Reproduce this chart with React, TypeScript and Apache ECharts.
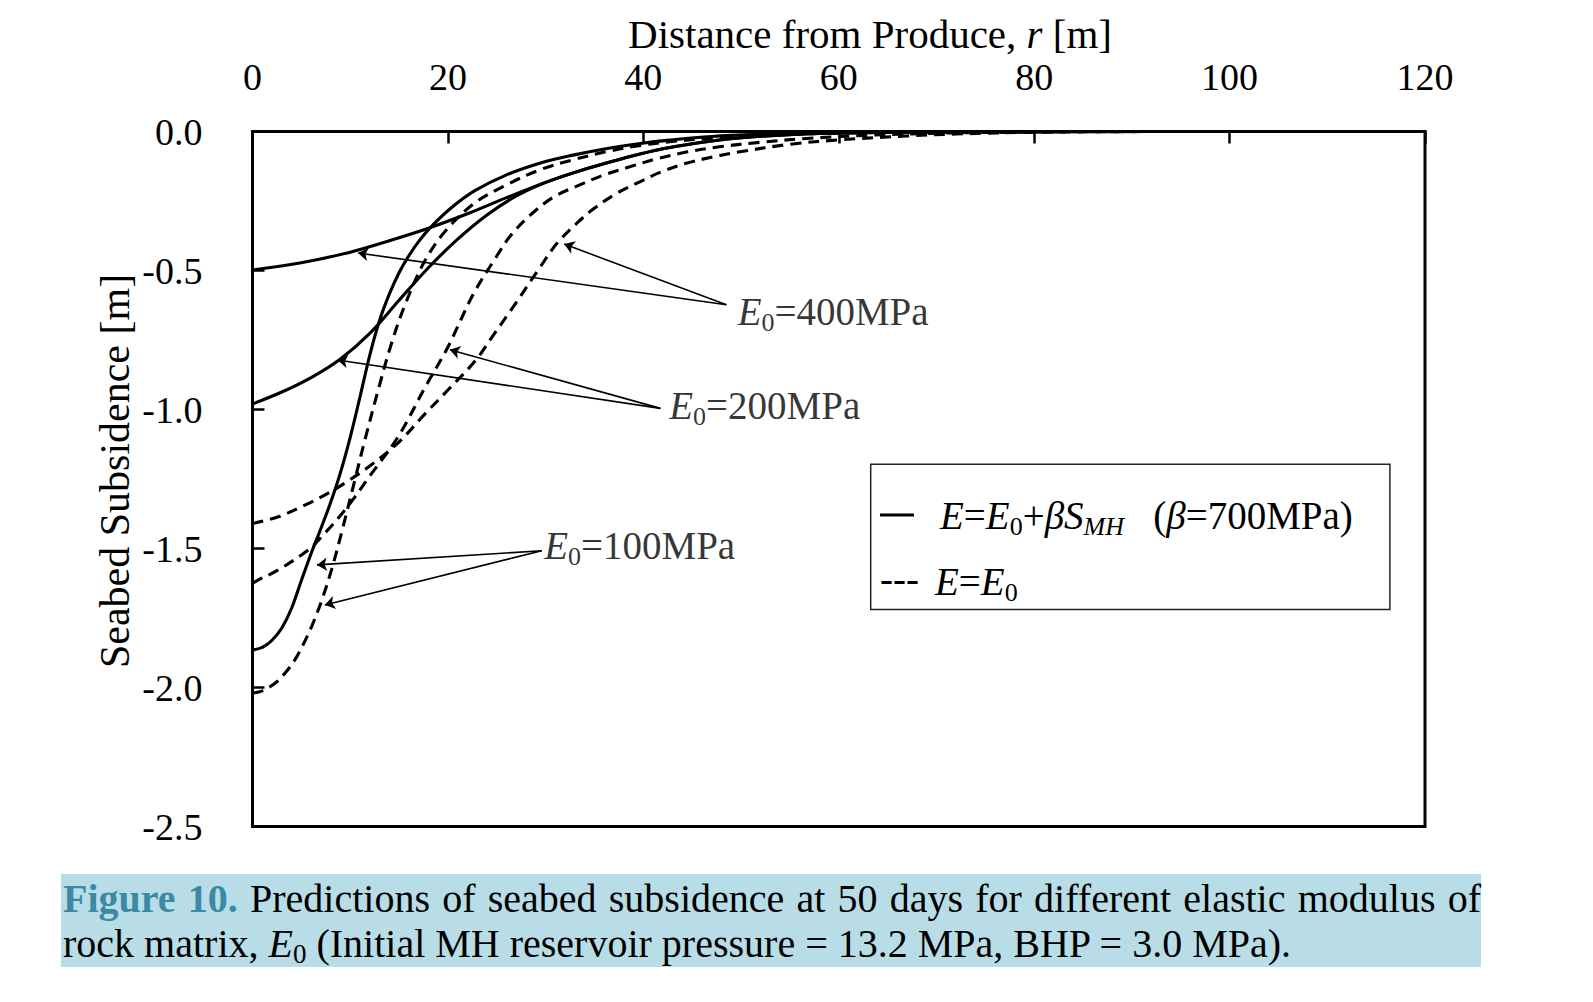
import React, { useEffect, useRef } from 'react';
import * as echarts from 'echarts';

const FONT = '"Liberation Serif", "Times New Roman", serif';

// axis settings
const X_MIN = 0;
const X_MAX = 120;
const X_STEP = 20;
const Y_MIN = -2.5;
const Y_MAX = 0;
const Y_STEP = 0.5;

// E = E0 + beta*S_MH (solid lines)
const rSolid400 = [0, 5, 10, 14, 18, 22, 26, 30, 34, 38, 42, 47, 52, 58, 65, 75, 90, 120];
const zSolid400 = [-0.498, -0.472, -0.434, -0.393, -0.348, -0.296, -0.238, -0.183, -0.136, -0.096, -0.062, -0.034, -0.017, -0.007, -0.003, -0.001, 0, 0];

const rSolid200 = [0, 3, 6, 9, 12, 15, 18, 21, 24, 27, 30, 34, 38, 42, 47, 52, 58, 65, 75, 90, 120];
const zSolid200 = [-0.98, -0.937, -0.885, -0.818, -0.726, -0.607, -0.49, -0.387, -0.3, -0.232, -0.183, -0.136, -0.096, -0.062, -0.034, -0.017, -0.007, -0.003, -0.001, 0, 0];

const rSolid100 = [0, 1, 2, 3, 4, 5, 6, 7, 8, 9, 10, 11, 12, 13, 14, 15, 16, 17, 18.3, 20.5, 22.8, 26, 29.4, 32.8, 36.3, 39.7, 42.7, 47, 52, 58, 65, 75, 90, 120];
const zSolid100 = [-1.865, -1.856, -1.83, -1.786, -1.715, -1.615, -1.518, -1.428, -1.334, -1.227, -1.1, -0.955, -0.805, -0.68, -0.585, -0.508, -0.447, -0.396, -0.342, -0.27, -0.212, -0.156, -0.114, -0.085, -0.061, -0.043, -0.031, -0.018, -0.01, -0.004, -0.002, -0.001, 0, 0];

// E = E0 (dashed lines)
const rDash400 = [0, 2.64, 5.3, 7.8, 10, 11.9, 14.9, 17.7, 20, 22.8, 24.6, 26.4, 29.4, 31.1, 33.2, 34.9, 37.3, 39.7, 41.7, 44.4, 47.2, 49.9, 55, 60.1, 67, 72, 80, 95, 120];
const zDash400 = [-1.41, -1.386, -1.345, -1.3, -1.252, -1.206, -1.12, -1.014, -0.93, -0.825, -0.735, -0.645, -0.49, -0.405, -0.33, -0.278, -0.222, -0.18, -0.147, -0.114, -0.091, -0.073, -0.046, -0.03, -0.016, -0.009, -0.003, 0, 0];

const rDash200 = [0, 0.6, 2.64, 5.7, 7.4, 9.5, 12.2, 14.9, 17.7, 20, 22.6, 25, 26.4, 28.4, 30.8, 33.5, 35.9, 38.6, 41.4, 44.4, 47.8, 51.9, 56.7, 63.5, 70.4, 80, 95, 120];
const zDash200 = [-1.625, -1.613, -1.577, -1.505, -1.445, -1.36, -1.23, -1.098, -0.918, -0.775, -0.585, -0.448, -0.375, -0.302, -0.236, -0.192, -0.157, -0.127, -0.098, -0.074, -0.055, -0.039, -0.025, -0.013, -0.006, -0.002, 0, 0];

const rDash100 = [0, 1, 2.3, 3.3, 4.35, 5.2, 6.06, 7.1, 8.1, 9.1, 10.5, 11.5, 12.9, 14.2, 15.6, 17.6, 19.7, 22.7, 26, 29.4, 32.8, 36.3, 39.7, 42.7, 47, 52, 58, 65, 75, 90, 120];
const zDash100 = [-2.02, -2.012, -1.985, -1.95, -1.9, -1.845, -1.78, -1.685, -1.575, -1.445, -1.25, -1.11, -0.925, -0.765, -0.624, -0.468, -0.36, -0.258, -0.192, -0.138, -0.102, -0.072, -0.05, -0.037, -0.024, -0.014, -0.007, -0.003, -0.001, 0, 0];

// annotations (data units)
const annoValues = ['400', '200', '100'];
const annoTextAnchors: number[][] = [[49.6, -0.649], [42.6, -0.987], [29.8, -1.49]];
const annoTails: number[][] = [[48.5, -0.623], [41.75, -0.996], [29.6, -1.508]];
const annoHeads: number[][][] = [
  [[10.8, -0.437], [31.9, -0.405]],
  [[8.7, -0.822], [20.2, -0.785]],
  [[6.6, -1.559], [7.4, -1.703]],
];

const captionLine1 = ['Figure', '10.', 'Predictions', 'of', 'seabed', 'subsidence', 'at', '50', 'days', 'for', 'different', 'elastic', 'modulus', 'of'];
const captionBoldCount = 2;
const captionLine2 = '{n|rock matrix, }{i|E}{s|0}{n| (Initial MH reservoir pressure = 13.2 MPa, BHP = 3.0 MPa).}';

const zip = (r: number[], z: number[]) => r.map((v, i) => [v, z[i]]);

function measure(text: string, font: string): number {
  const c = document.createElement('canvas').getContext('2d');
  if (!c) return text.length * 18;
  c.font = font;
  return c.measureText(text).width;
}

export default function App() {
  const ref = useRef<HTMLDivElement>(null);

  useEffect(() => {
    document.body.style.margin = '0';
    if (!ref.current) return;
    const chart = echarts.init(ref.current, undefined, { renderer: 'svg' });

    const gridLeft = 252.5;
    const gridTop = 131.5;
    const gridW = 1172.5;
    const gridH = 695;

    const lineSeries = [
      { name: 's400', d: zip(rSolid400, zSolid400), dashed: false },
      { name: 's200', d: zip(rSolid200, zSolid200), dashed: false },
      { name: 's100', d: zip(rSolid100, zSolid100), dashed: false },
      { name: 'd400', d: zip(rDash400, zDash400), dashed: true },
      { name: 'd200', d: zip(rDash200, zDash200), dashed: true },
      { name: 'd100', d: zip(rDash100, zDash100), dashed: true },
    ].map((s) => ({
      type: 'line',
      name: s.name,
      data: s.d,
      showSymbol: false,
      symbol: 'none',
      smooth: 0.35,
      lineStyle: { color: '#000', width: 3.1, type: s.dashed ? [11, 7] : 'solid' },
      z: 3,
    }));

    const arrowData: any[] = [];
    annoTails.forEach((t, i) => {
      annoHeads[i].forEach((h) => arrowData.push({ coords: [t, h] }));
    });

    const richLabel = {
      i: { fontFamily: FONT, fontSize: 39, fontStyle: 'italic', lineHeight: 48, color: '#000' },
      n: { fontFamily: FONT, fontSize: 39, lineHeight: 48, color: '#000' },
      s: { fontFamily: FONT, fontSize: 26, lineHeight: 26, verticalAlign: 'bottom', color: '#000' },
      si: { fontFamily: FONT, fontSize: 26, fontStyle: 'italic', lineHeight: 26, verticalAlign: 'bottom', color: '#000' },
    };

    // caption line 1 justified
    const capFont = 40;
    const capLeft = 63;
    const capRight = 1481;
    const fontN = `${capFont}px "Liberation Serif"`;
    const fontB = `bold ${capFont}px "Liberation Serif"`;
    const widths = captionLine1.map((w, i) => measure(w, i < captionBoldCount ? fontB : fontN));
    const total = widths.reduce((a, b) => a + b, 0);
    const gap = (capRight - capLeft - total) / (captionLine1.length - 1);
    let cx = capLeft;
    const capWords: any[] = captionLine1.map((w, i) => {
      const el = {
        type: 'text',
        x: cx,
        y: 898.5,
        z: 20,
        style: {
          text: w,
          fontFamily: FONT,
          fontSize: capFont,
          fontWeight: i < captionBoldCount ? 'bold' : 'normal',
          fill: i < captionBoldCount ? '#3a8aa3' : '#000',
          align: 'left',
          verticalAlign: 'middle',
          textAlign: 'left',
          textVerticalAlign: 'middle',
        },
      };
      cx += widths[i] + gap;
      return el;
    });

    const capRich = {
      n: { fontFamily: FONT, fontSize: capFont, lineHeight: 48, color: '#000' },
      i: { fontFamily: FONT, fontSize: capFont, fontStyle: 'italic', lineHeight: 48, color: '#000' },
      s: { fontFamily: FONT, fontSize: 27, lineHeight: 27, verticalAlign: 'bottom', color: '#000' },
    };

    const option: any = {
      animation: false,
      backgroundColor: '#ffffff',
      grid: {
        left: gridLeft,
        top: gridTop,
        width: gridW,
        height: gridH,
        show: true,
        borderColor: '#000',
        borderWidth: 3,
        backgroundColor: 'transparent',
        containLabel: false,
      },
      xAxis: {
        type: 'value',
        position: 'top',
        min: X_MIN,
        max: X_MAX,
        interval: X_STEP,
        axisLine: { show: true, onZero: false, lineStyle: { color: '#000', width: 3 } },
        axisTick: { show: true, inside: true, length: 12, lineStyle: { color: '#000', width: 2.5 } },
        axisLabel: { show: true, margin: 41, lineHeight: 28, color: '#000', fontFamily: FONT, fontSize: 38 },
        splitLine: { show: false },
      },
      yAxis: {
        type: 'value',
        min: Y_MIN,
        max: Y_MAX,
        interval: Y_STEP,
        axisLine: { show: true, onZero: false, lineStyle: { color: '#000', width: 3 } },
        axisTick: { show: true, inside: true, length: 12, lineStyle: { color: '#000', width: 2.5 } },
        axisLabel: {
          show: true,
          margin: 50,
          color: '#000',
          fontFamily: FONT,
          fontSize: 38,
          formatter: (v: number) => (Math.abs(v) < 1e-9 ? 0 : v).toFixed(1),
        },
        splitLine: { show: false },
      },
      series: [
        ...lineSeries,
        {
          type: 'lines',
          coordinateSystem: 'cartesian2d',
          data: arrowData,
          symbol: ['none', 'arrow'],
          symbolSize: 10,
          silent: true,
          lineStyle: { color: '#000', width: 1.6, opacity: 1, curveness: 0 },
          z: 4,
        },
        {
          type: 'scatter',
          data: annoTextAnchors.map((p, i) => ({ value: p, label: { formatter: `{i|E}{s|0}{n|=${annoValues[i]}MPa}` } })),
          symbolSize: 1,
          itemStyle: { color: 'rgba(0,0,0,0)' },
          silent: true,
          label: { show: true, position: 'right', distance: 0, rich: richLabel },
          z: 5,
        },
      ],
      graphic: [
        {
          type: 'text',
          x: 870,
          y: 34,
          style: {
            text: '{n|Distance from Produce, }{i|r}{n| [m]}',
            rich: {
              n: { fontFamily: FONT, fontSize: 41, lineHeight: 34, color: '#000' },
              i: { fontFamily: FONT, fontSize: 41, lineHeight: 34, fontStyle: 'italic', color: '#000' },
            },
            align: 'center',
            verticalAlign: 'middle',
            textAlign: 'center',
            textVerticalAlign: 'middle',
          },
        },
        {
          type: 'text',
          x: 115,
          y: 471,
          rotation: Math.PI / 2,
          style: {
            text: 'Seabed Subsidence [m]',
            fontFamily: FONT,
            fontSize: 42,
            fill: '#000',
            align: 'center',
            verticalAlign: 'middle',
            textAlign: 'center',
            textVerticalAlign: 'middle',
          },
        },
        // legend
        {
          type: 'rect',
          shape: { x: 870.7, y: 464.3, width: 519.2, height: 145.3 },
          style: { fill: '#fff', stroke: '#222', lineWidth: 1.5 },
          z: 10,
        },
        {
          type: 'line',
          shape: { x1: 880, y1: 515, x2: 914, y2: 515 },
          style: { stroke: '#000', lineWidth: 3 },
          z: 11,
        },
        {
          type: 'text',
          x: 940,
          y: 515,
          z: 11,
          style: {
            text: '{i|E}{n|=}{i|E}{s|0}{n|+}{i|βS}{si|MH}{n|   (}{i|β}{n|=700MPa)}',
            rich: richLabel,
            align: 'left',
            verticalAlign: 'middle',
            textAlign: 'left',
            textVerticalAlign: 'middle',
          },
        },
        {
          type: 'text',
          x: 880,
          y: 578,
          z: 11,
          style: {
            text: '---',
            fontFamily: FONT,
            fontSize: 39,
            fill: '#000',
            align: 'left',
            verticalAlign: 'middle',
            textAlign: 'left',
            textVerticalAlign: 'middle',
          },
        },
        {
          type: 'text',
          x: 935,
          y: 581,
          z: 11,
          style: {
            text: '{i|E}{n|=}{i|E}{s|0}',
            rich: richLabel,
            align: 'left',
            verticalAlign: 'middle',
            textAlign: 'left',
            textVerticalAlign: 'middle',
          },
        },
        // caption
        {
          type: 'rect',
          shape: { x: 61, y: 874, width: 1420, height: 93 },
          style: { fill: '#b8dde7' },
          z: 19,
        },
        ...capWords,
        {
          type: 'text',
          x: capLeft,
          y: 943.5,
          z: 20,
          style: {
            text: captionLine2,
            rich: capRich,
            align: 'left',
            verticalAlign: 'middle',
            textAlign: 'left',
            textVerticalAlign: 'middle',
          },
        },
      ],
    };

    chart.setOption(option);
    return () => chart.dispose();
  }, []);

  return <div ref={ref} style={{ width: 1593, height: 1002, background: '#fff' }} />;
}
